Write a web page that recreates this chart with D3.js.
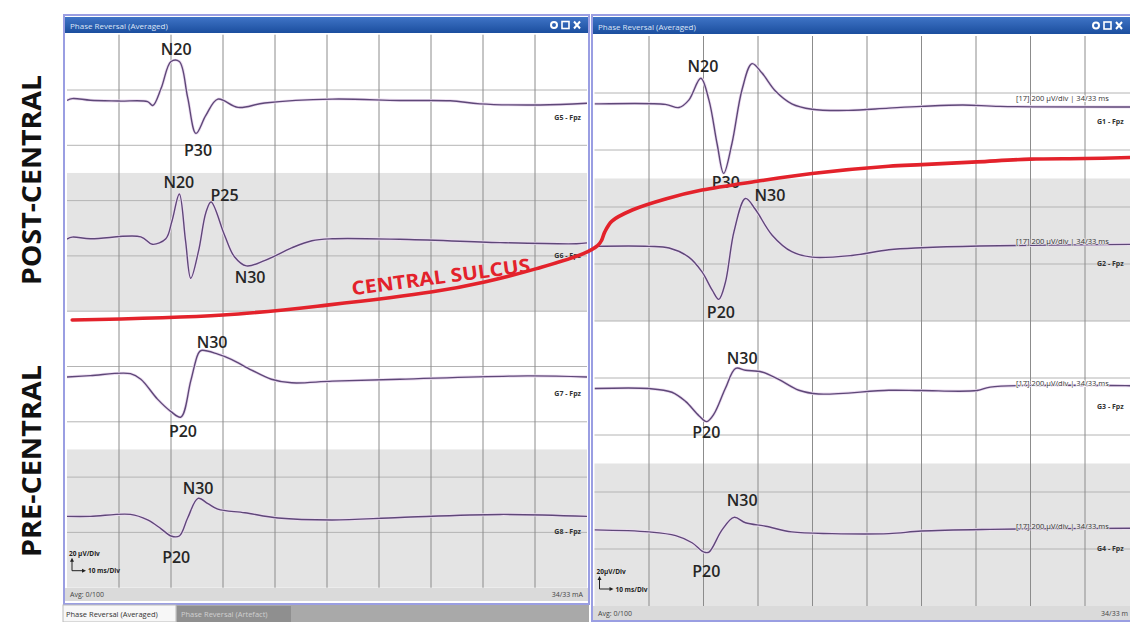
<!DOCTYPE html>
<html>
<head>
<meta charset="utf-8">
<script src="https://cdn.jsdelivr.net/npm/d3@7"></script>
<style>
  body { margin: 0; background: #fff; }
  svg { display: block; }
  text { font-family: "Open Sans", "Noto Sans", sans-serif; }
</style>
</head>
<body>
<svg id="fig" width="1130" height="622"></svg>
<script>
// traces are [ms, µV], positive = upward deflection
const g5 = [[0,0.4],[1,1.1],[4.5,0.5],[10,0.2],[15.5,0],[16.5,-1.4],[18.1,4.8],[20,14.5],[21.6,14.5],[23.2,1.5],[24.8,-11.5],[26.7,-5],[29,0.9],[32.9,-2.1],[38,-0.5],[51,0.9],[64,0.4],[73.7,0.3],[79.4,-0.8],[91,-1.2],[100,-0.6]];
const g6 = [[0,0.3],[1,1],[4.5,0.4],[14.2,1.1],[16.4,-1.6],[19,0.4],[20.2,6.9],[21.6,16.6],[22.8,-0.4],[23.8,-13.9],[25.3,-4],[26.7,9.8],[27.7,13.7],[30.3,1.7],[32.2,-6.1],[34.5,-9.4],[38.1,-7.4],[43.2,-2.9],[47.1,-0.3],[51,0.4],[64,0.2],[83.3,-1],[98,-1.4],[100,-1.1]];
const g7 = [[0,0.4],[4.5,0.9],[12.2,1.6],[14.2,-0.4],[17.4,-7.6],[20,-12.1],[21.9,-14.1],[23.8,-1],[25.2,8.7],[25.8,10],[29,8.7],[31.6,6.8],[35.5,2.9],[39.3,-0.4],[43.2,-1.7],[51,-1.1],[64,-0.4],[88.5,0.8],[100,0.4]];
const g8 = [[0,0],[4.5,0],[12.2,0.7],[15.5,-1.3],[18.1,-4.5],[20,-7.1],[21.6,-7.1],[23.2,-0.6],[25.2,6.5],[27.1,4.6],[29,2.6],[34.2,1.3],[40.6,-0.6],[51,-1.3],[64,-0.4],[83.3,0.7],[100,0]];

const g1 = [[0,0],[0.8,0],[13,-0.2],[15.5,-1.3],[17.3,1.3],[19.5,9],[21,1.3],[22.5,-14.1],[23.7,-24.4],[25.2,-14.1],[27.1,5.2],[28.9,14.1],[30.7,10.9],[33.2,4.5],[36.2,0],[39.9,-1.9],[46.6,-2.3],[54,-1.5],[60,-0.9],[67.6,-0.4],[74.4,-0.9],[98.3,-1.1],[100,-1.1]];
const g2 = [[0,0],[10,0],[13.7,-0.6],[17.3,-3.8],[19.7,-8.9],[21.6,-15.4],[22.8,-18.6],[24,-12.8],[25.6,5.2],[27.7,16.8],[29.5,13],[32.6,3.9],[36.2,-1.9],[39.9,-3.8],[47.2,-3.2],[54,-1.2],[60,-0.5],[70.7,0.1],[98.3,0.7],[100,0.7]];
const g3 = [[0,0.1],[10,0.1],[14.2,-1.2],[16.7,-4.4],[19.2,-9.5],[20.6,-11.5],[21.9,-8.9],[24,0.1],[25.9,7.2],[27.7,6.5],[30.7,5.9],[33.8,3.3],[37.5,-0.5],[41.1,-1.8],[54,-0.5],[60,-0.6],[70.2,-0.6],[72.6,0.6],[98.3,1.1],[100,1]];
const g4 = [[0,0.5],[10,-0.2],[14.9,-1.5],[17.9,-4],[20.1,-7.3],[21,-7.3],[23.4,0.5],[25.6,4.9],[27.7,3],[31.4,1.8],[36.2,-0.2],[43.6,-0.8],[54,-0.8],[60,0.1],[72.6,0.7],[98.3,1.1],[100,1]];

const leftChannels = ['G5 - Fpz', 'G6 - Fpz', 'G7 - Fpz', 'G8 - Fpz'];
const rightChannels = ['G1 - Fpz', 'G2 - Fpz', 'G3 - Fpz', 'G4 - Fpz'];

// peak labels: [channel, text, ms, µV]
const leftPeaks = [[0,'N20',21,19],[0,'P30',25.2,-17.5],[1,'N20',21.5,21],[1,'P25',30.3,16.3],[1,'N30',35.2,-13.4],
  [2,'N30',27.9,13],[2,'P20',22.3,-19.3],[3,'N30',25.2,10.3],[3,'P20',21,-14.8]];
const rightPeaks = [[0,'N20',19.9,13.3],[0,'P30',24.1,-27.4],[1,'N30',32.2,17.9],[1,'P20',23.2,-23.2],
  [2,'N30',27.1,10.9],[2,'P20',20.5,-15.4],[3,'N30',27.1,10.9],[3,'P20',20.5,-14]];

// central sulcus line, in left panel units [ms, division from top]
const sulcus = [[1,5.16],[30,5.07],[50,4.89],[70.3,4.65],[80.3,4.47],[90.3,4.23],[99.3,3.96],[102.1,3.81],[102.8,3.72],
  [103.4,3.57],[104.8,3.37],[108.7,3.17],[115.1,2.97],[122.1,2.81],[132.7,2.65],[143.3,2.51],[158,2.38],[164.4,2.35],
  [175,2.3],[185.2,2.25],[195.8,2.24],[204.4,2.22]];

const bandFill = ['#ffffff', '#e4e4e4'];

const svg = d3.select('#fig');
const defs = svg.append('defs');
const grad = defs.append('linearGradient').attr('id', 'titleGrad').attr('x1', 0).attr('x2', 0).attr('y1', 0).attr('y2', 1);
grad.append('stop').attr('offset', '0%').attr('stop-color', '#3f74c6');
grad.append('stop').attr('offset', '100%').attr('stop-color', '#1b4e9e');

const panels = [
  { id: 'L', x0: 67, x1: 587, y0: 34.7, y1: 587.7, frame: [64, 15, 589, 604], bar: [65, 17, 588, 33],
    traces: [g5, g6, g7, g8], chans: leftChannels, peaks: leftPeaks, base: 1.21, info: false,
    footer: [588, 601], footRight: '34/33 mA', unit: '20 µV/Div' },
  { id: 'R', x0: 594.5, x1: 1139.5, y0: 36, y1: 606, frame: [592, 15, 1140, 621], bar: [593, 17, 1140, 34],
    traces: [g1, g2, g3, g4], chans: rightChannels, peaks: rightPeaks, base: 1.19, info: true,
    footer: [606, 620], footRight: '34/33 m', unit: '20µV/Div' }
];

let leftScales = null;

panels.forEach((p) => {
  const x = d3.scaleLinear().domain([0, 100]).range([p.x0, p.x1]);
  const div = d3.scaleLinear().domain([0, 10]).range([p.y0, p.y1]);
  const yOf = (c, v) => div(2.5 * c + p.base - v / 20);
  if (p.id === 'L') leftScales = { x, div };
  const g = svg.append('g');

  // frame background
  g.append('rect').attr('x', p.frame[0]).attr('y', p.frame[1])
    .attr('width', p.frame[2] - p.frame[0]).attr('height', p.frame[3] - p.frame[1])
    .attr('fill', '#fff');

  // bands
  [0, 1, 2, 3].forEach((c) => {
    g.append('rect').attr('x', p.x0).attr('y', div(2.5 * c))
      .attr('width', p.x1 - p.x0).attr('height', div(2.5 * c + 2.5) - div(2.5 * c))
      .attr('fill', bandFill[c % 2]);
  });

  // grid
  g.selectAll('.hg').data(d3.range(1, 10)).enter().append('line')
    .attr('x1', p.x0).attr('x2', p.x1).attr('y1', div).attr('y2', div)
    .attr('stroke', '#b4b4b4').attr('stroke-width', 1);
  g.selectAll('.vg').data(d3.range(10, 100, 10)).enter().append('line')
    .attr('x1', x).attr('x2', x).attr('y1', p.y0).attr('y2', p.y1)
    .attr('stroke', '#8c8c8c').attr('stroke-width', 1);

  // scale marker box
  const sb = g.append('g').attr('transform', `translate(${p.x0 + 2},${p.y1 - 38})`);
  sb.append('text').attr('x', 0).attr('y', 6).attr('font-size', 6.5).attr('font-weight', 700).attr('fill', '#222').text(p.unit);
  sb.append('line').attr('x1', 3).attr('x2', 3).attr('y1', 21).attr('y2', 10).attr('stroke', '#222');
  sb.append('path').attr('d', 'M3,8 L1,12 L5,12 Z').attr('fill', '#222');
  sb.append('line').attr('x1', 3).attr('x2', 15).attr('y1', 21).attr('y2', 21).attr('stroke', '#222');
  sb.append('path').attr('d', 'M17,21 L13,19 L13,23 Z').attr('fill', '#222');
  sb.append('text').attr('x', 19).attr('y', 23.5).attr('font-size', 6.5).attr('font-weight', 700).attr('fill', '#222').text('10 ms/Div');

  // traces
  const clipId = 'clip' + p.id;
  defs.append('clipPath').attr('id', clipId).append('rect')
    .attr('x', p.x0).attr('y', p.y0).attr('width', p.x1 - p.x0).attr('height', p.y1 - p.y0);
  p.traces.forEach((tr, c) => {
    const line = d3.line().x((d) => x(d[0])).y((d) => yOf(c, d[1])).curve(d3.curveCatmullRom.alpha(0.5));
    g.append('path').attr('d', line(tr)).attr('clip-path', `url(#${clipId})`)
      .attr('fill', 'none').attr('stroke', '#ecdcf1').attr('stroke-width', 3);
    g.append('path').attr('d', line(tr)).attr('clip-path', `url(#${clipId})`)
      .attr('fill', 'none').attr('stroke', '#5e4878').attr('stroke-width', 1.4);
  });

  // info strings on right panel, sitting on the trace
  if (p.info) {
    [0, 1, 2, 3].forEach((c) => {
      const yb = yOf(c, 0);
      g.append('text').attr('x', 1016).attr('y', yb - 2.5).attr('font-size', 7.5).attr('fill', '#333')
        .attr('stroke', bandFill[c % 2]).attr('stroke-width', 1.5).attr('paint-order', 'stroke')
        .text('[17] 200 µV/div | 34/33 ms');
    });
  }

  // channel names
  p.chans.forEach((name, c) => {
    const t = g.append('text').attr('y', yOf(c, 0) + (p.info ? 20 : 18)).attr('font-size', 7)
      .attr('font-weight', 700).attr('fill', '#333').text(name);
    if (p.info) t.attr('x', 1097); else t.attr('x', p.x1 - 6).attr('text-anchor', 'end');
  });

  // peak labels
  p.peaks.forEach(([c, txt, t, v]) => {
    g.append('text').attr('x', x(t)).attr('y', yOf(c, v)).attr('dy', '0.36em')
      .attr('text-anchor', 'middle').attr('font-size', 16).attr('font-weight', 600)
      .attr('fill', '#262626').text(txt);
  });

  // title bar
  g.append('rect').attr('x', p.bar[0]).attr('y', p.bar[1]).attr('width', p.bar[2] - p.bar[0])
    .attr('height', p.bar[3] - p.bar[1]).attr('fill', 'url(#titleGrad)');
  g.append('text').attr('x', p.bar[0] + 5).attr('y', p.bar[3] - 4.5).attr('font-size', 8)
    .attr('fill', '#dde6f7').text('Phase Reversal (Averaged)');
  const ix = Math.min(p.bar[2], 1130) - 40;
  const ic = g.append('g').attr('transform', `translate(${ix},${(p.bar[1] + p.bar[3]) / 2})`).attr('stroke', '#fff').attr('fill', 'none');
  ic.append('circle').attr('cx', 6).attr('cy', 0).attr('r', 3).attr('stroke-width', 2);
  ic.append('rect').attr('x', 14).attr('y', -3.5).attr('width', 7).attr('height', 7).attr('stroke-width', 1.6);
  ic.append('path').attr('d', 'M26,-3.5 L32,3.5 M32,-3.5 L26,3.5').attr('stroke-width', 2);

  // footer
  g.append('rect').attr('x', p.frame[0] + 1).attr('y', p.footer[0]).attr('width', p.frame[2] - p.frame[0] - 2)
    .attr('height', p.footer[1] - p.footer[0]).attr('fill', '#dadada');
  g.append('text').attr('x', p.frame[0] + 6).attr('y', p.footer[1] - 4).attr('font-size', 7).attr('fill', '#444').text('Avg: 0/100');
  g.append('text').attr('x', Math.min(p.frame[2], 1128) - (p.info ? 0 : 6)).attr('y', p.footer[1] - 4)
    .attr('text-anchor', 'end').attr('font-size', 7).attr('fill', '#444').text(p.footRight);

  // frame border
  g.append('rect').attr('x', p.frame[0]).attr('y', p.frame[1])
    .attr('width', p.frame[2] - p.frame[0]).attr('height', p.frame[3] - p.frame[1])
    .attr('fill', 'none').attr('stroke', '#9a9ee2').attr('stroke-width', 2);
});

// tab strip under left panel
svg.append('rect').attr('x', 63).attr('y', 605).attr('width', 526).attr('height', 17).attr('fill', '#a9a9a9');
svg.append('rect').attr('x', 63).attr('y', 605).attr('width', 113).attr('height', 17).attr('fill', '#f7f7f7').attr('stroke', '#bbb');
svg.append('text').attr('x', 66).attr('y', 617).attr('font-size', 7.5).attr('fill', '#333').text('Phase Reversal (Averaged)');
svg.append('rect').attr('x', 177).attr('y', 606).attr('width', 114).attr('height', 16).attr('fill', '#8f8f8f');
svg.append('text').attr('x', 181).attr('y', 617).attr('font-size', 7.5).attr('fill', '#cfcfcf').text('Phase Reversal (Artefact)');

// central sulcus
const sx = leftScales.x, sd = leftScales.div;
const sulcusLine = d3.line().x((d) => sx(d[0])).y((d) => sd(d[1])).curve(d3.curveCatmullRom.alpha(0.5));
svg.append('path').attr('d', sulcusLine(sulcus)).attr('fill', 'none')
  .attr('stroke', '#e3222b').attr('stroke-width', 3.6).attr('stroke-linecap', 'round');
svg.append('text').attr('transform', `translate(${sx(71.9)},${sd(4.38)}) rotate(-7.5)`)
  .attr('text-anchor', 'middle').attr('dy', '0.35em').attr('font-size', 19).attr('font-weight', 700)
  .attr('fill', '#e3222b').attr('textLength', 180).attr('lengthAdjust', 'spacingAndGlyphs').text('CENTRAL SULCUS');

// side labels
[['POST-CENTRAL', 180], ['PRE-CENTRAL', 461]].forEach(([txt, cy]) => {
  svg.append('text').attr('transform', `translate(41,${cy}) rotate(-90)`).attr('text-anchor', 'middle')
    .attr('font-size', 26).attr('font-weight', 700).attr('fill', '#111')
    .attr('textLength', txt.length > 11 ? 210 : 192).attr('lengthAdjust', 'spacingAndGlyphs').text(txt);
});
</script>
</body>
</html>
